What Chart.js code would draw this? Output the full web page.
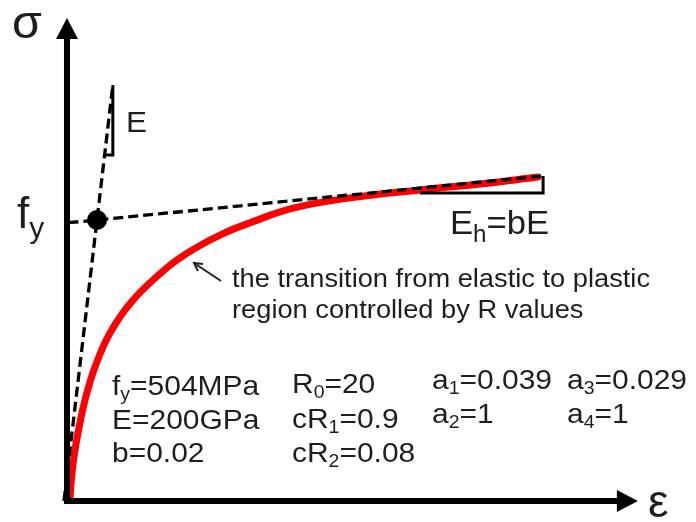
<!DOCTYPE html>
<html>
<head>
<meta charset="utf-8">
<title>Menegotto-Pinto steel model</title>
<script src="https://cdn.jsdelivr.net/npm/chart.js@4/dist/chart.umd.min.js"></script>
<style>
  html, body { margin: 0; padding: 0; background: #fff; }
  #wrap { width: 696px; height: 522px; position: relative; }
</style>
</head>
<body>
<div id="wrap"><canvas id="c"></canvas></div>
<script>
// Normalised stress-strain: strain in units of yield strain (eps/eps_y), stress in units of fy.
const curveStrain = [0.1, 0.167, 0.267, 0.367, 0.6, 0.933, 1.433, 2.2, 3.367, 4.267, 5.167, 6.1, 7.533, 9.333, 11.767, 13.767, 15.7];
const curveStress = [0.011, 0.100, 0.181, 0.242, 0.359, 0.477, 0.598, 0.715, 0.833, 0.899, 0.950, 0.990, 1.042, 1.077, 1.107, 1.128, 1.153];

// Elastic asymptote (slope E) and hardening asymptote (slope Eh = bE)
const elasticStrain = [-0.1, 1, 1.528];
const elasticStress = [0, 1, 1.48];
const hardeningStrain = [0.05, 1, 15.87];
const hardeningStress = [0.9905, 1, 1.157];

// Yield point (intersection of the two asymptotes)
const yieldStrain = [1];
const yieldStress = [1];

// Slope triangles
const eTriStrain = [1.528, 1.528, 1.254];
const eTriStress = [1.48, 1.231, 1.231];
const ehTriStrain = [11.77, 15.87, 15.87];
const ehTriStress = [1.096, 1.096, 1.157];

// Axis extents (arrow tips)
const axisStrainEnd = 19.03;
const axisStressEnd = 1.719;

// Parameter table
const paramCols = [
  ["f_y=504MPa", "E=200GPa", "b=0.02"],
  ["R_0=20", "cR_1=0.9", "cR_2=0.08"],
  ["a_1=0.039", "a_2=1"],
  ["a_3=0.029", "a_4=1"]
];
const noteLines = ["the transition from elastic to plastic", "region controlled by R values"];

const pts = (xs, ys) => xs.map((x, i) => ({ x, y: ys[i] }));
const FONT = '"Liberation Sans", Arial, sans-serif';
const INK = '#1e1e1e';

function parseRich(s) {
  const parts = [];
  let buf = '';
  for (let i = 0; i < s.length; i++) {
    if (s[i] === '_' && i + 1 < s.length) {
      if (buf) parts.push({ t: buf, sub: false });
      buf = '';
      parts.push({ t: s[i + 1], sub: true });
      i++;
    } else buf += s[i];
  }
  if (buf) parts.push({ t: buf, sub: false });
  return parts;
}

function drawRich(ctx, s, x, y, size, opts = {}) {
  const sx = opts.sx || 1;
  const ratio = opts.ratio || 0.65;
  const drop = opts.drop != null ? opts.drop : 0.19;
  ctx.save();
  ctx.translate(x, y);
  ctx.scale(sx, 1);
  ctx.fillStyle = INK;
  ctx.textBaseline = 'alphabetic';
  ctx.textAlign = 'left';
  let cx = 0;
  for (const p of parseRich(s)) {
    const fs = p.sub ? size * ratio : size;
    ctx.font = `${fs}px ${FONT}`;
    ctx.fillText(p.t, cx, p.sub ? size * drop : 0);
    cx += ctx.measureText(p.t).width;
  }
  ctx.restore();
}

const decor = {
  id: 'decor',
  beforeDraw(chart) {
    const ctx = chart.ctx;
    ctx.save();
    ctx.fillStyle = '#fff';
    ctx.fillRect(0, 0, chart.width, chart.height);
    ctx.restore();
  },
  afterDatasetsDraw(chart) {
    const ctx = chart.ctx;
    const xs = chart.scales.x, ys = chart.scales.y;
    const x0 = xs.getPixelForValue(0), y0 = ys.getPixelForValue(0);
    const xEnd = xs.getPixelForValue(axisStrainEnd);
    const yEnd = ys.getPixelForValue(axisStressEnd);
    ctx.save();
    ctx.strokeStyle = '#000';
    ctx.fillStyle = '#000';
    ctx.lineWidth = 6;
    ctx.lineCap = 'butt';
    // stress axis
    ctx.beginPath();
    ctx.moveTo(x0, y0 + 3);
    ctx.lineTo(x0, yEnd + 18);
    ctx.stroke();
    ctx.beginPath();
    ctx.moveTo(x0, yEnd);
    ctx.lineTo(x0 - 11, yEnd + 21);
    ctx.lineTo(x0 + 11, yEnd + 21);
    ctx.closePath();
    ctx.fill();
    // strain axis
    ctx.beginPath();
    ctx.moveTo(x0 - 3, y0);
    ctx.lineTo(xEnd - 18, y0);
    ctx.stroke();
    ctx.beginPath();
    ctx.moveTo(xEnd, y0);
    ctx.lineTo(xEnd - 21, y0 - 11);
    ctx.lineTo(xEnd - 21, y0 + 11);
    ctx.closePath();
    ctx.fill();

    // pointer arrow to the transition zone
    ctx.lineWidth = 2;
    ctx.strokeStyle = '#222';
    ctx.beginPath();
    ctx.moveTo(221, 281);
    ctx.lineTo(194, 263);
    ctx.stroke();
    ctx.beginPath();
    ctx.moveTo(203, 264);
    ctx.lineTo(194, 263);
    ctx.lineTo(198, 271);
    ctx.stroke();
    ctx.restore();

    // axis and slope labels
    drawRich(ctx, 'σ', 12, 38, 46, { sx: 1.05 });
    drawRich(ctx, 'ε', 648, 517, 46, { sx: 1.0 });
    drawRich(ctx, 'f_y', 17, 228, 44, { ratio: 0.68, drop: 0.22 });
    drawRich(ctx, 'E', 126, 132, 30, { sx: 1.05 });
    drawRich(ctx, 'E_h=bE', 450, 234, 33, { sx: 1.05, ratio: 0.7, drop: 0.24 });

    // note
    noteLines.forEach((t, i) => drawRich(ctx, t, 232, 287 + i * 31, 25, { sx: 1.09 }));

    // parameter table
    const colX = [112, 292, 432, 567];
    const rowY = [[395, 429, 462], [393, 428, 462], [389, 423], [389, 423]];
    paramCols.forEach((col, c) => col.forEach((t, r) =>
      drawRich(ctx, t, colX[c], rowY[c][r], 28, { sx: 1.07, ratio: 0.65, drop: 0.19 })));
  }
};

const dashed = { borderColor: '#000', borderWidth: 3.3, borderDash: [10, 5], pointRadius: 0, showLine: true, fill: false, tension: 0 };
const solid = { borderColor: '#000', borderWidth: 3, pointRadius: 0, showLine: true, fill: false, tension: 0 };

new Chart(document.getElementById('c'), {
  type: 'scatter',
  data: {
    datasets: [
      { label: 'stress-strain', data: pts(curveStrain, curveStress), showLine: true, borderColor: '#ff0000', borderWidth: 7,
        pointRadius: 0, tension: 0.4, borderCapStyle: 'round', borderJoinStyle: 'round', order: 10 },
      Object.assign({ label: 'E', data: pts(elasticStrain, elasticStress), order: 5 }, dashed),
      Object.assign({ label: 'Eh', data: pts(hardeningStrain, hardeningStress), order: 5 }, dashed),
      Object.assign({ label: 'E slope', data: pts(eTriStrain, eTriStress), order: 4 }, solid),
      Object.assign({ label: 'Eh slope', data: pts(ehTriStrain, ehTriStress), order: 4 }, solid),
      { label: 'fy', data: pts(yieldStrain, yieldStress), pointRadius: 10, pointBackgroundColor: '#000', pointBorderWidth: 0, showLine: false, order: 1 }
    ]
  },
  options: {
    responsive: true,
    maintainAspectRatio: false,
    animation: false,
    layout: { padding: 0, autoPadding: false },
    plugins: { legend: { display: false }, tooltip: { enabled: false } },
    events: [],
    scales: {
      x: { type: 'linear', display: false, min: -2.233, max: 20.967 },
      y: { type: 'linear', display: false, min: -0.0747, max: 1.7829 }
    }
  },
  plugins: [decor]
});
</script>
</body>
</html>
